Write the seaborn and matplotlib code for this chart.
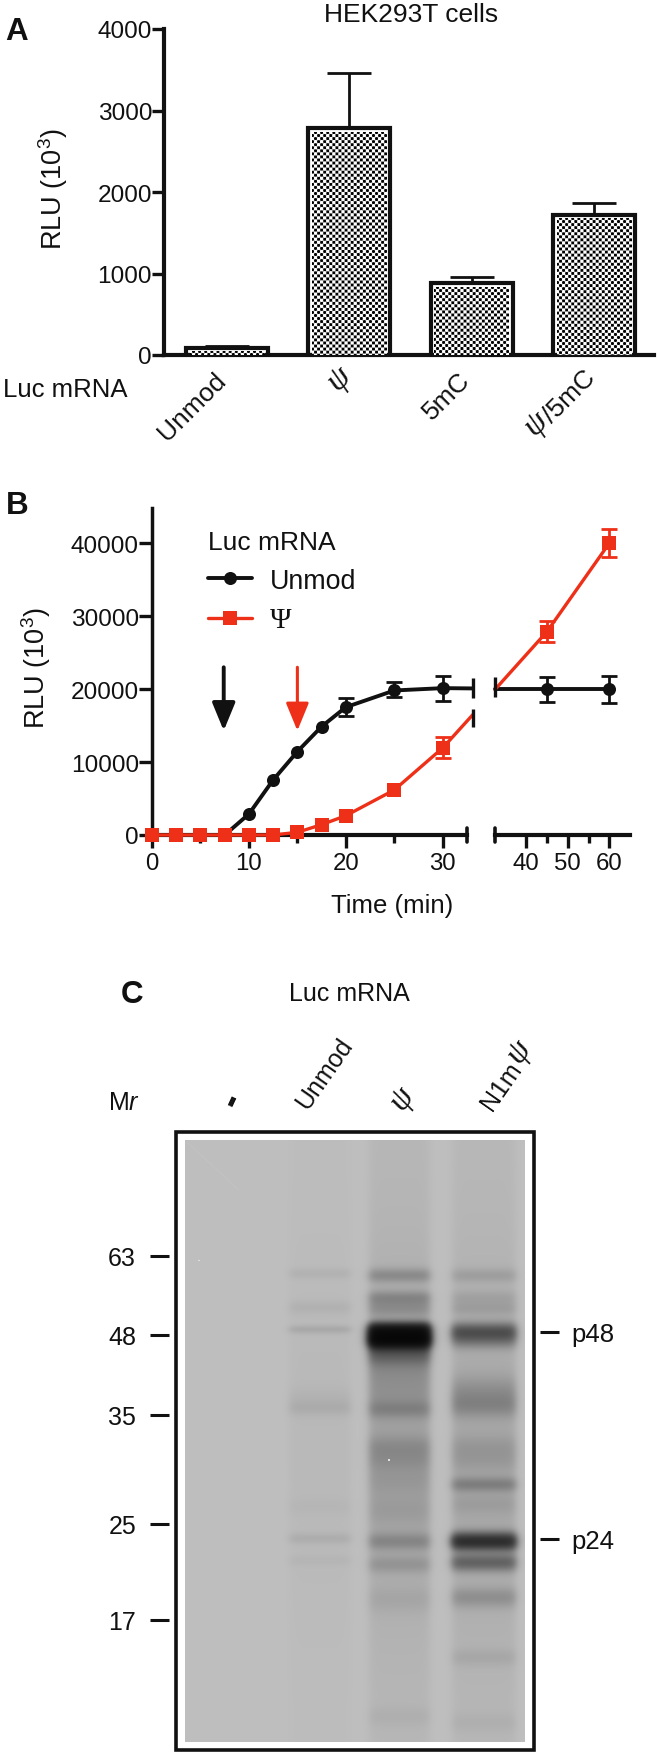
import numpy as np
import pandas as pd
import matplotlib
matplotlib.use("Agg")
import matplotlib.pyplot as plt
from matplotlib.lines import Line2D
from matplotlib.patches import Rectangle
import seaborn as sns

# panel A
bar_labels = ["Unmod", "ψ", "5mC", "ψ/5mC"]
bar_values = [90, 2780, 880, 1718]
bar_errors = [15, 675, 73, 147]

# panel B, last left point and first right point sit on the axis break
time_left = [0, 2.5, 5, 7.5, 10, 12.5, 15, 17.5, 20, 25, 30, 33.1]
unmod_left = [0, 0, 0, 0, 2880, 7550, 11440, 14870, 17530, 19820, 20140, 20100]
psi_left = [0, 0, 0, 0, 0, 0, 370, 1420, 2650, 6180, 11950, 16500]
time_right = [32.5, 45, 60]
unmod_right = [20000, 20000, 20000]
psi_right = [19950, 27900, 40050]
unmod_err_t = [20, 25, 30, 45, 60]
unmod_err_v = [17530, 19920, 20110, 20000, 20000]
unmod_err = [1280, 1030, 1670, 1700, 1850]
psi_err_t = [30, 45, 60]
psi_err_v = [11950, 27900, 40050]
psi_err = [1450, 1500, 1900]

# panel C, gel bands as (row, strength, thickness) per lane
mr_labels = ["63", "48", "35", "25", "17"]
mr_rows = [116, 195, 275, 384, 480]
lane_cols = {"Unmod": (104, 165), "psi": (184, 244), "N1m": (267, 330)}
lane_smear = {"Unmod": 0.01, "psi": 0.04, "N1m": 0.035}
unmod_bands = [(133, .05, 4), (167, .05, 5), (189, .10, 3), (260, .04, 9), (268, .05, 5),
               (366, .02, 6), (398, .07, 4), (420, .03, 4), (300, .02, 120)]
psi_bands = [(135, .24, 5), (157, .24, 5), (168, .20, 6), (189, 1.7, 5), (199, 2.6, 6), (212, .6, 9),
             (232, .12, 10), (255, .12, 14), (269, .18, 6), (306, .15, 8), (320, .12, 8), (340, .08, 10),
             (370, .07, 11), (401, .24, 6), (424, .15, 6), (459, .06, 9), (576, .04, 7), (300, .12, 110)]
n1m_bands = [(135, .12, 5), (157, .09, 5), (168, .11, 5), (191, .7, 6), (200, .3, 6),
             (252, .18, 11), (266, .18, 8), (306, .09, 8), (320, .08, 8), (344, .28, 5),
             (364, .07, 7), (401, 1.3, 6), (422, .55, 6), (457, .2, 7), (517, .07, 6), (582, .04, 7),
             (320, .1, 120)]
lane_bands = {"Unmod": unmod_bands, "psi": psi_bands, "N1m": n1m_bands}

W, H = 658, 1756
BLACK = "#111111"
RED = "#ef3018"

sns.set_style("ticks")
plt.rcParams["font.family"] = ["Liberation Sans", "DejaVu Sans"]
plt.rcParams["mathtext.fontset"] = "custom"
plt.rcParams["mathtext.rm"] = "Liberation Sans"
plt.rcParams["mathtext.it"] = "Liberation Sans:italic"
plt.rcParams["mathtext.default"] = "regular"
plt.rcParams["text.color"] = BLACK
plt.rcParams["axes.edgecolor"] = BLACK
plt.rcParams["xtick.color"] = BLACK
plt.rcParams["ytick.color"] = BLACK


def axes_px(fig, left, top, right, bottom):
    return fig.add_axes([left / W, 1 - bottom / H, (right - left) / W, (bottom - top) / H])


def text_px(fig, x, y, s, **kw):
    kw.setdefault("ha", "left")
    kw.setdefault("va", "center")
    return fig.text(x / W, 1 - y / H, s, **kw)


def psi_px(fig, x, y, rotation, size=24):
    # the psi in the sample names is an italic serif glyph, larger than the sans text
    return text_px(fig, x, y, "ψ", ha="center", rotation=rotation, fontsize=size,
                   family="Liberation Serif", style="italic")


fig = plt.figure(figsize=(W / 100, H / 100), dpi=100)

# ---- A
ax = axes_px(fig, 164, 30, 654, 356)
sns.barplot(x=bar_labels, y=bar_values, color="white", width=0.67, saturation=1,
            edgecolor=BLACK, linewidth=3, ax=ax)
ax.set_xlim(-0.515, 3.49)
ax.set_ylim(0, 4000)
ax.set_autoscale_on(False)
px_x = 4.005 / 490
px_y = 4000 / 326
for bar in list(ax.patches):
    w_px = int(bar.get_width() / px_x) - 6
    h_px = max(int(bar.get_height() / px_y) - 3, 1)
    yy, xx = np.mgrid[0:h_px, 0:w_px]
    # checker fill, the original bars have a pattern GraphPad style
    tex = np.clip(0.62 + 1.3 * np.cos(np.pi * xx / 3.05) * np.cos(np.pi * yy / 3.05), 0, 1)
    cx = bar.get_x() + bar.get_width() / 2
    ax.imshow(tex, cmap="gray", vmin=0, vmax=1, aspect="auto", interpolation="nearest", zorder=3,
              extent=(cx - w_px * px_x / 2, cx + w_px * px_x / 2, 0, h_px * px_y))
ax.errorbar(range(4), bar_values, yerr=[[0] * 4, bar_errors], fmt="none", ecolor=BLACK,
            elinewidth=2, capsize=15.5, capthick=2, zorder=1)
ax.set_yticks([0, 1000, 2000, 3000, 4000])
ax.tick_params(axis="y", length=8.6, width=2.4, pad=0, labelsize=17.6)
ax.set_xticks([])
for i in [0, 2]:
    ax.annotate(bar_labels[i], xy=(i, 0), xycoords=("data", "axes fraction"), xytext=(-3.6, -15),
                textcoords="offset points", rotation=45, ha="right", va="center",
                rotation_mode="anchor", fontsize=19, annotation_clip=False)
psi_px(fig, 339, 379, 45)
psi_px(fig, 536, 424, 45)
text_px(fig, 569, 397, "/5mC", ha="center", rotation=45, fontsize=19)
sns.despine(ax=ax)
ax.spines["left"].set_linewidth(3)
ax.spines["bottom"].set_linewidth(3)
ax.set_xlabel("")
ax.set_ylabel("")
text_px(fig, 53, 189, "RLU (10$^3$)", rotation=90, ha="center", fontsize=19.5)
text_px(fig, 411.5, 15, "HEK293T cells", ha="center", fontsize=19)
text_px(fig, 3, 390, "Luc mRNA", fontsize=18.5)
text_px(fig, 5, 32, "A", fontsize=22.6, fontweight="bold")

# ---- B
ax_l = axes_px(fig, 152, 509.3, 467, 836)
ax_r = axes_px(fig, 495, 509.3, 630.3, 836)
left_df = pd.DataFrame({"t": time_left, "unmod": unmod_left, "psi": psi_left})
right_df = pd.DataFrame({"t": time_right, "unmod": unmod_right, "psi": psi_right})
for cur_ax, df, mark_idx in [(ax_l, left_df, list(range(len(time_left) - 1))),
                             (ax_r, right_df, list(range(1, len(time_right))))]:
    sns.lineplot(data=df, x="t", y="unmod", color=BLACK, lw=2.8, marker="o", markersize=9.4,
                 markeredgewidth=0, markeredgecolor=BLACK, markevery=mark_idx, clip_on=False,
                 errorbar=None, zorder=3, ax=cur_ax)
    sns.lineplot(data=df, x="t", y="psi", color=RED, lw=2.4, marker="s", markersize=9.4,
                 markeredgewidth=0, markeredgecolor=RED, markevery=mark_idx, clip_on=False,
                 errorbar=None, zorder=4, ax=cur_ax)
    cur_ax.set_xlabel("")
    cur_ax.set_ylabel("")
    cur_ax.set_ylim(0, 44800)
    cur_ax.patch.set_visible(False)
    cur_ax.tick_params(axis="x", which="major", length=9, width=2.4, labelsize=17.3, pad=3)
    cur_ax.tick_params(axis="x", which="minor", length=6, width=2.4)
    sns.despine(ax=cur_ax)
    cur_ax.spines["bottom"].set_linewidth(3)
    cur_ax.axvline(32.5, ymin=-0.02, ymax=0.02, color=BLACK, lw=2.6, clip_on=False, zorder=3)
ax_l.set_xlim(0, 32.5)
ax_r.set_xlim(32.5, 65)
ax_l.set_xticks([0, 10, 20, 30])
ax_l.set_xticks([5, 15, 25], minor=True)
ax_r.set_xticks([40, 50, 60])
ax_r.set_xticks([45, 55], minor=True)
ax_l.set_yticks([0, 10000, 20000, 30000, 40000])
ax_l.tick_params(axis="y", length=9.4, width=2.4, pad=0, labelsize=17.6)
ax_l.spines["left"].set_linewidth(2.5)
ax_r.spines["left"].set_visible(False)
ax_r.tick_params(axis="y", left=False, labelleft=False)

for cur_ax, ts, vs, es, col in [
    (ax_l, unmod_err_t[:3], unmod_err_v[:3], unmod_err[:3], BLACK),
    (ax_r, unmod_err_t[3:], unmod_err_v[3:], unmod_err[3:], BLACK),
    (ax_l, psi_err_t[:1], psi_err_v[:1], psi_err[:1], RED),
    (ax_r, psi_err_t[1:], psi_err_v[1:], psi_err[1:], RED),
]:
    cur_ax.errorbar(ts, vs, yerr=es, fmt="none", ecolor=col, elinewidth=2, capsize=5.6, capthick=2, zorder=3)

# break marks
ax_l.vlines([33.1, 33.1], [18800, 14800], [21500, 17300], color=BLACK, lw=2.4, clip_on=False, zorder=5)
ax_r.vlines(32.5, 18900, 21700, color=BLACK, lw=2.4, clip_on=False, zorder=5)

for t_arrow, col, lw_arrow in [(7.4, BLACK, 2.8), (15, RED, 2.2)]:
    ax_l.annotate("", xy=(t_arrow, 14300), xytext=(t_arrow, 23000), zorder=6,
                  arrowprops=dict(arrowstyle="-|>,head_length=17,head_width=7", mutation_scale=1,
                                  color=col, lw=lw_arrow, shrinkA=0, shrinkB=0))

handles = [Line2D([], [], color=BLACK, lw=2.8, marker="o", markersize=9.4, markeredgewidth=0),
           Line2D([], [], color=RED, lw=2.4, marker="s", markersize=9.4, markeredgewidth=0)]
leg = fig.legend(handles, ["Unmod", "Ψ"], loc="upper left", bbox_to_anchor=(184 / W, 1 - 507 / H),
                 frameon=False, title="Luc mRNA", title_fontsize=19, fontsize=19.3,
                 alignment="left", handlelength=1.65, handletextpad=0.66, labelspacing=0.5, numpoints=1)
leg.get_texts()[1].set_fontfamily("Liberation Serif")
leg.get_texts()[1].set_fontsize(21)

text_px(fig, 36, 668, "RLU (10$^3$)", rotation=90, ha="center", fontsize=19.5)
text_px(fig, 392.5, 906, "Time (min)", ha="center", fontsize=18.5)
text_px(fig, 6, 506, "B", fontsize=22.6, fontweight="bold")

# ---- C
rows, cols = np.mgrid[0:602, 0:340]
darkness = np.zeros(rows.shape)
for lane, (c0, c1) in lane_cols.items():
    mask = 0.5 * (np.tanh((cols - c0) / 5) - np.tanh((cols - c1) / 5))
    lane_dark = np.full(rows.shape, lane_smear[lane], dtype=float)
    for row, amp, sig in lane_bands[lane]:
        lane_dark += amp * np.exp(-((rows - row) ** 2) / (2 * sig ** 2))
    darkness += mask * lane_dark
gel = 190 * np.exp(-darkness)
gel[120, 13:15] = 225
gel[319:321, 203:205] = 225

ax_g = axes_px(fig, 184.5, 1140.7, 524.8, 1742.7)
sns.heatmap(gel, vmin=0, vmax=255, cmap="gray", cbar=False, xticklabels=False, yticklabels=False, ax=ax_g)
ax_g.plot([2, 54], [2, 50], color="#c6c6c6", lw=0.6, alpha=0.7)
ax_g.set_yticks(mr_rows)
ax_g.set_yticklabels(mr_labels, rotation=0)
ax_g.spines["left"].set_visible(False)
ax_g.spines["left"].set_position(("outward", 11.5))
ax_g.tick_params(axis="y", length=14, width=2.2, pad=9.4, labelsize=18)

ax_g2 = ax_g.twinx()
ax_g2.set_ylim(ax_g.get_ylim())
ax_g2.set_yticks([192, 399])
ax_g2.set_yticklabels(["p48", "p24"])
ax_g2.spines["right"].set_visible(False)
ax_g2.spines["right"].set_position(("outward", 10.8))
for name in ["left", "top", "bottom"]:
    ax_g2.spines[name].set_visible(False)
ax_g2.tick_params(axis="y", length=14, width=2.2, pad=8.4, labelsize=18.5)

fig.add_artist(Rectangle((175.7 / W, 1 - 1750.7 / H), (533.6 - 175.7) / W, (1750.7 - 1132.7) / H, fill=False,
                         edgecolor=BLACK, lw=2.6, transform=fig.transFigure))

text_px(fig, 121, 995, "C", fontsize=22.6, fontweight="bold")
text_px(fig, 349, 994, "Luc mRNA", ha="center", fontsize=18)
text_px(fig, 108, 1102.7, "M$\\mathit{r}$", fontsize=18)
text_px(fig, 232, 1100, "-", ha="center", fontsize=27, fontweight="bold", rotation=65)
text_px(fig, 324, 1074, "Unmod", ha="center", fontsize=18, rotation=55)
psi_px(fig, 401, 1099, 55)
text_px(fig, 501, 1086, "N1m", ha="center", fontsize=18, rotation=55)
psi_px(fig, 518, 1052, 55)

fig.savefig("out.png", dpi=100)
